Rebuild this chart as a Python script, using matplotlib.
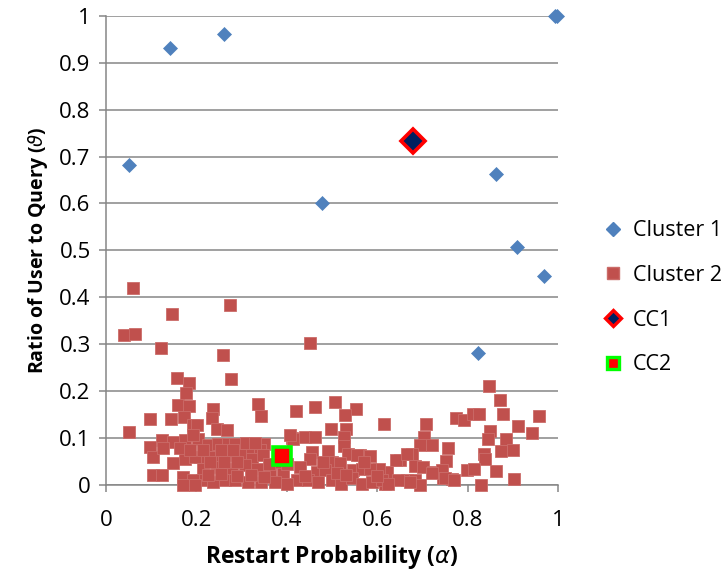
import matplotlib
matplotlib.use("Agg")
import matplotlib.pyplot as plt
from matplotlib.lines import Line2D

plt.rcParams['font.family'] = ['Open Sans', 'DejaVu Sans']
plt.rcParams['mathtext.fontset'] = 'dejavusans'

# Cluster 1 (blue diamonds)
c1_x = [0.052, 0.142, 0.261, 0.478, 0.862, 0.909, 0.969, 0.822, 0.993, 0.998]
c1_y = [0.682, 0.932, 0.962, 0.601, 0.663, 0.507, 0.446, 0.281, 1.0, 1.0]

# Cluster 2 (red squares)
c2_x = [0.060, 0.274, 0.146, 0.040, 0.064, 0.122, 0.259, 0.452,
        0.157, 0.184, 0.277, 0.177, 0.160, 0.183, 0.337, 0.236,
        0.097, 0.144, 0.173, 0.234, 0.344, 0.050, 0.245, 0.267,
        0.193, 0.201,
        0.420, 0.462, 0.506, 0.553, 0.529, 0.614, 0.497, 0.532,
        0.847, 0.871, 0.878, 0.774, 0.793, 0.813, 0.825, 0.958,
        0.708, 0.912, 0.942, 0.850, 0.845, 0.884, 0.704, 0.695, 0.721, 0.757,
        0.676, 0.837, 0.875, 0.901, 0.752, 0.838, 0.684, 0.702, 0.724, 0.743,
        0.798, 0.814, 0.862, 0.650, 0.665, 0.684, 0.695, 0.746, 0.765, 0.830, 0.903,
        0.350, 0.411, 0.440, 0.462, 0.527, 0.527, 0.492, 0.455, 0.562, 0.584, 0.641, 0.665,
        0.621, 0.721, 0.750, 0.771, 0.647, 0.673, 0.617,
        0.414, 0.536, 0.555, 0.451, 0.499, 0.518, 0.605, 0.429, 0.466, 0.484, 0.547,
        0.566, 0.584, 0.422, 0.447, 0.470, 0.499, 0.521, 0.544, 0.566, 0.588, 0.610,
        0.625, 0.510, 0.532,
        0.204, 0.407, 0.226, 0.248, 0.271, 0.285, 0.315, 0.341, 0.208, 0.237, 0.267,
        0.296, 0.322, 0.348, 0.215, 0.245, 0.278, 0.308, 0.333, 0.363, 0.392,
        0.212, 0.237, 0.263, 0.285, 0.315, 0.344, 0.374, 0.400,
        0.097, 0.123, 0.149, 0.175, 0.193, 0.105, 0.127, 0.149, 0.175, 0.197, 0.105,
        0.123, 0.171, 0.193, 0.171, 0.197, 0.164, 0.186,
        0.225, 0.255, 0.290, 0.320, 0.350, 0.380, 0.230, 0.260, 0.290, 0.310, 0.330,
        0.360, 0.400, 0.440, 0.480, 0.570, 0.600, 0.215, 0.255, 0.280]
c2_y = [0.419, 0.384, 0.365, 0.320, 0.321, 0.292, 0.278, 0.302,
        0.228, 0.217, 0.225, 0.195, 0.171, 0.168, 0.172, 0.161,
        0.140, 0.140, 0.144, 0.143, 0.147, 0.113, 0.119, 0.118,
        0.128, 0.128,
        0.157, 0.166, 0.176, 0.163, 0.149, 0.129, 0.119, 0.119,
        0.212, 0.181, 0.151, 0.142, 0.139, 0.152, 0.152, 0.148,
        0.130, 0.125, 0.111, 0.115, 0.097, 0.097, 0.102, 0.086, 0.085, 0.079,
        0.067, 0.067, 0.072, 0.074, 0.051, 0.056, 0.040, 0.039, 0.028, 0.031,
        0.033, 0.035, 0.030, 0.053, 0.010, 0.010, 0.000, 0.014, 0.012, 0.000, 0.012,
        0.087, 0.100, 0.102, 0.102, 0.102, 0.083, 0.072, 0.070, 0.063, 0.061, 0.053, 0.067,
        0.028, 0.025, 0.015, 0.010, 0.010, 0.007, 0.003,
        0.099, 0.067, 0.063, 0.056, 0.049, 0.046, 0.035, 0.039, 0.028, 0.033, 0.031,
        0.035, 0.035, 0.010, 0.010, 0.007, 0.010, 0.003, 0.014, 0.003, 0.007, 0.010,
        0.003, 0.025, 0.021,
        0.099, 0.107, 0.085, 0.088, 0.088, 0.088, 0.074, 0.074, 0.060, 0.060, 0.064,
        0.064, 0.056, 0.064, 0.035, 0.039, 0.035, 0.042, 0.035, 0.028, 0.028,
        0.010, 0.007, 0.010, 0.010, 0.007, 0.007, 0.007, 0.003,
        0.081, 0.095, 0.092, 0.095, 0.107, 0.060, 0.078, 0.046, 0.056, 0.060, 0.021,
        0.021, 0.018, 0.010, 0.000, 0.000, 0.078, 0.074,
        0.022, 0.024, 0.020, 0.022, 0.018, 0.050, 0.048, 0.050, 0.048, 0.090, 0.090,
        0.045, 0.045, 0.020, 0.050, 0.050, 0.020, 0.075, 0.075, 0.075]

cc1_x, cc1_y = [0.680], [0.734]
cc2_x, cc2_y = [0.389], [0.062]

labels = ["Cluster 1", "Cluster 2", "CC1", "CC2"]
x_ticks = [0, 0.2, 0.4, 0.6, 0.8, 1]
y_ticks = [0, 0.1, 0.2, 0.3, 0.4, 0.5, 0.6, 0.7, 0.8, 0.9, 1]

BLUE = '#4F81BD'
RED = '#C0504D'
GRID = '#868686'

fig = plt.figure(figsize=(7.27, 5.78), dpi=100)
ax = fig.add_axes([0.1458, 0.1609, 0.6217, 0.8119])

ax.plot(c2_x, c2_y, linestyle='none', marker='s', markersize=8.4,
        markerfacecolor=RED, markeredgecolor='#CB6C69', markeredgewidth=0.6,
        clip_on=False, zorder=3)
ax.plot(c1_x, c1_y, linestyle='none', marker='D', markersize=7.6,
        markerfacecolor=BLUE, markeredgecolor=BLUE, markeredgewidth=0.5,
        clip_on=False, zorder=4)
ax.plot(cc1_x, cc1_y, linestyle='none', marker='D', markersize=12.5,
        markerfacecolor='#002060', markeredgecolor='#FF0000', markeredgewidth=2.6,
        clip_on=False, zorder=5)
ax.plot(cc2_x, cc2_y, linestyle='none', marker='s', markersize=13.5,
        markerfacecolor='#FF0000', markeredgecolor='#00FF00', markeredgewidth=2.6,
        clip_on=False, zorder=5)

ax.set_xlim(0, 1)
ax.set_ylim(0, 1)
ax.set_xticks(x_ticks)
ax.set_xticklabels(['0', '0.2', '0.4', '0.6', '0.8', '1'])
ax.set_yticks(y_ticks)
ax.set_yticklabels(['0', '0.1', '0.2', '0.3', '0.4', '0.5', '0.6', '0.7', '0.8', '0.9', '1'])
ax.yaxis.grid(True, color=GRID, linewidth=1.1)
ax.set_axisbelow(True)
for s in ['top', 'right']:
    ax.spines[s].set_visible(False)
for s in ['left', 'bottom']:
    ax.spines[s].set_color(GRID)
    ax.spines[s].set_linewidth(1.1)
ax.tick_params(axis='both', colors=GRID, labelcolor='black', labelsize=16,
               direction='out', length=5, width=1.1)
ax.tick_params(axis='x', pad=13)
ax.tick_params(axis='y', pad=6)

ax.set_xlabel(r'Restart Probability ($\alpha$)', fontsize=16.5, fontweight='bold', labelpad=9)
ax.set_ylabel(r'Ratio of User to Query ($\vartheta$)', fontsize=14, fontweight='bold', labelpad=7)

handles = [
    Line2D([], [], linestyle='none', marker='D', markersize=7.6, markerfacecolor=BLUE, markeredgecolor=BLUE),
    Line2D([], [], linestyle='none', marker='s', markersize=8.4, markerfacecolor=RED, markeredgecolor='#CB6C69'),
    Line2D([], [], linestyle='none', marker='D', markersize=8, markerfacecolor='#002060',
           markeredgecolor='#FF0000', markeredgewidth=2.4),
    Line2D([], [], linestyle='none', marker='s', markersize=9, markerfacecolor='#FF0000',
           markeredgecolor='#00FF00', markeredgewidth=2.4),
]
fig.legend(handles, labels, loc='center left', bbox_to_anchor=(0.817, 0.485),
           frameon=False, fontsize=15.5, labelspacing=1.1, handlelength=1.0,
           handletextpad=0.4, borderaxespad=0)

fig.savefig('out.png', dpi=100)
